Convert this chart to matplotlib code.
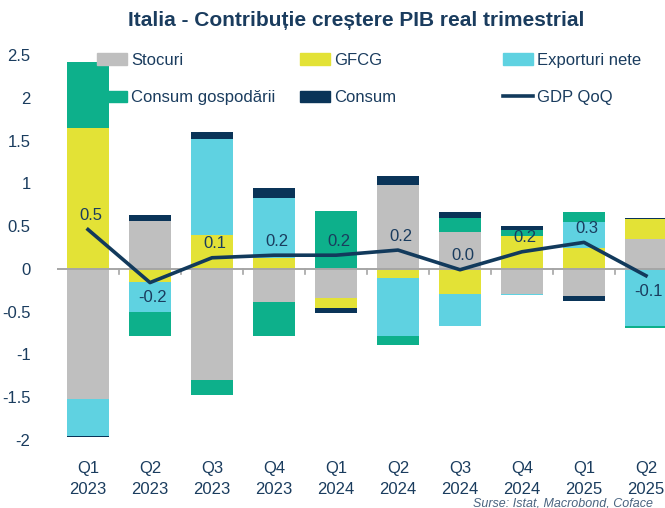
import matplotlib
matplotlib.use('Agg')
import matplotlib.pyplot as plt
import numpy as np
from matplotlib.patches import Patch
from matplotlib.lines import Line2D

plt.rcParams['font.family'] = ['Liberation Sans', 'DejaVu Sans']

# contributii la cresterea PIB (pp)
quarters = ['Q1\n2023', 'Q2\n2023', 'Q3\n2023', 'Q4\n2023', 'Q1\n2024',
            'Q2\n2024', 'Q3\n2024', 'Q4\n2024', 'Q1\n2025', 'Q2\n2025']
stocuri = [-1.52, 0.56, -1.30, -0.39, -0.34, 0.98, 0.43, -0.29, -0.32, 0.35]
gfcg = [1.65, -0.15, 0.40, 0.13, -0.12, -0.11, -0.29, 0.38, 0.25, 0.23]
exporturi = [-0.43, -0.35, 1.12, 0.70, 0.0, -0.67, -0.38, -0.02, 0.30, -0.67]
consum_gosp = [0.77, -0.28, -0.17, -0.39, 0.68, -0.11, 0.16, 0.08, 0.12, -0.02]
consum = [-0.02, 0.07, 0.08, 0.12, -0.06, 0.11, 0.07, 0.04, -0.05, 0.02]
gdp = [0.46, -0.16, 0.13, 0.16, 0.16, 0.22, -0.01, 0.20, 0.31, -0.08]

series = [('Stocuri', stocuri, '#bfbfbf'),
          ('GFCG', gfcg, '#e3e236'),
          ('Exporturi nete', exporturi, '#5fd2e1'),
          ('Consum gospodării', consum_gosp, '#0db08b'),
          ('Consum', consum, '#0a3458')]

navy = '#1a3c5e'
fig = plt.figure(figsize=(6.65, 5.08), dpi=100)
ax = fig.add_axes([57/665, 68/508, 620/665, 385/508])

x = np.arange(len(quarters))
pos_base = np.zeros(len(x))
neg_base = np.zeros(len(x))
for name, vals, col in series:
    v = np.array(vals)
    base = np.where(v >= 0, pos_base, neg_base)
    ax.bar(x, v, width=0.67, bottom=base, color=col, zorder=2)
    pos_base += np.where(v >= 0, v, 0)
    neg_base += np.where(v < 0, v, 0)

ax.axhline(0, color='#a6a6a6', lw=1.4, zorder=3)
for b in np.arange(0.5, len(x), 1):
    ax.plot([b, b], [0, -0.06], color='#a6a6a6', lw=1.2, zorder=3)

ax.plot(x, gdp, color='#123a5c', lw=2.6, zorder=4)
for xi, g in zip(x, gdp):
    txt = f'{round(g, 1) + 0.0:.1f}'
    dy = 10 if g >= -0.05 else -11
    ax.annotate(txt, (xi, g), xytext=(2, dy), textcoords='offset points',
                ha='center', va='center', fontsize=12, color=navy, zorder=5)

ax.set_xlim(-0.5, len(x) - 0.5)
ax.set_ylim(-2, 2.5)
ax.set_yticks(np.arange(-2, 2.51, 0.5))
ax.set_yticklabels([f'{t:g}' for t in np.arange(-2, 2.51, 0.5)])
ax.set_xticks(x)
ax.set_xticklabels(quarters, linespacing=1.55)
ax.tick_params(axis='both', length=0, labelsize=12, labelcolor=navy)
ax.tick_params(axis='y', pad=19)
ax.tick_params(axis='x', pad=15)
for s in ax.spines.values():
    s.set_visible(False)

# legenda in trei coloane
handles = [Patch(color=c) for _, _, c in series]
handles.append(Line2D([0], [0], color='#123a5c', lw=2.6))
labels = [n for n, _, _ in series] + ['GDP QoQ']
cols = [[0, 3], [1, 4], [2, 5]]
col_x = [97, 300, 503]
for cx, idx in zip(col_x, cols):
    leg = fig.legend([handles[i] for i in idx], [labels[i] for i in idx],
                     loc='center left', bbox_to_anchor=(cx/665, (508-79)/508),
                     frameon=False, fontsize=12, borderpad=0, borderaxespad=0,
                     handlelength=1.8, handletextpad=0.25, labelspacing=1.35)
    for t in leg.get_texts():
        t.set_color(navy)

fig.text(356/665, 1 - 20/508, 'Italia - Contribuție creștere PIB real trimestrial',
         ha='center', va='center', fontsize=15, fontweight='bold', color=navy)
fig.text(653/665, 5/508, 'Surse: Istat, Macrobond, Coface', ha='right', va='center',
         fontsize=9, style='italic', color='#4a6480')

fig.savefig('out.png', dpi=100)
